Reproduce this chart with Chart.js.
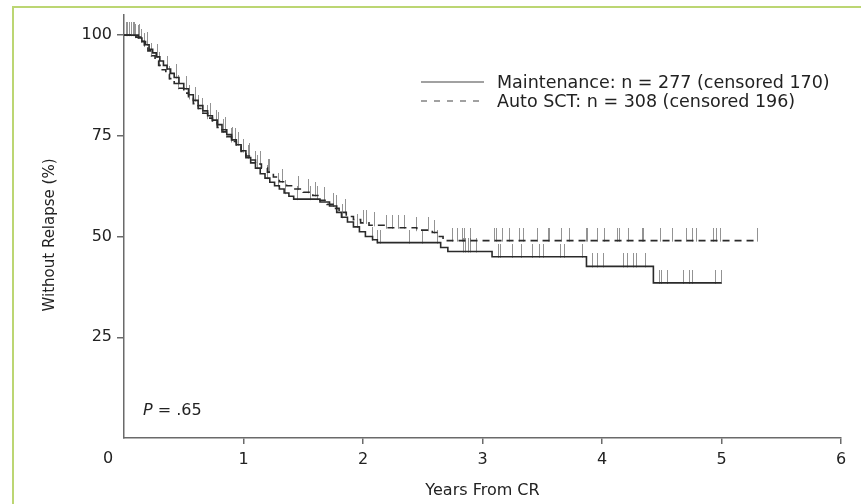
<!DOCTYPE html>
<html>
<head>
<meta charset="utf-8">
<script src="https://cdn.jsdelivr.net/npm/chart.js@4.4.1/dist/chart.umd.min.js"></script>
<style>
  html, body { margin: 0; padding: 0; background: #fff; }
  #wrap { position: relative; width: 861px; height: 504px; }
</style>
</head>
<body>
<div id="wrap"><canvas id="km"></canvas></div>
<script>
// Relapse-free survival from CR, Kaplan-Meier, two arms
const xTicks = [0, 1, 2, 3, 4, 5, 6];
const yTicks = [25, 50, 75, 100];

const seriesLabels = [
    'Maintenance: n = 277 (censored 170)',
    'Auto SCT: n = 308 (censored 196)'
];

// step points: time (years) and % without relapse from that time on
const maintTimes = [0, 0.12, 0.15, 0.18, 0.21, 0.24, 0.27, 0.30, 0.33, 0.36,
    0.39, 0.42, 0.46, 0.50, 0.54, 0.58, 0.62, 0.66, 0.70, 0.74,
    0.78, 0.82, 0.86, 0.90, 0.94, 0.98, 1.02, 1.06, 1.10, 1.14,
    1.18, 1.22, 1.26, 1.30, 1.34, 1.38, 1.42, 1.64, 1.72, 1.78,
    1.82, 1.87, 1.92, 1.97, 2.02, 2.08, 2.12, 2.65, 2.71, 3.08,
    3.87, 4.43, 5.0];
const maintSurv = [100, 99.3, 98.4, 97.6, 96.5, 95.6, 94.6, 93.6, 92.5, 91.6,
    90.5, 89.5, 88.0, 86.7, 85.2, 83.8, 82.5, 81.2, 80.0, 78.9,
    77.8, 76.5, 75.3, 74.0, 72.8, 71.3, 69.6, 68.3, 67.0, 65.6,
    64.5, 63.5, 62.6, 61.8, 60.8, 60.0, 59.3, 58.6, 57.6, 56.0,
    54.8, 53.6, 52.4, 51.2, 50.0, 49.2, 48.5, 47.3, 46.3, 45.0,
    42.6, 38.5, 38.5];

const autoTimes = [0, 0.10, 0.14, 0.17, 0.20, 0.23, 0.26, 0.29, 0.32, 0.35,
    0.38, 0.42, 0.46, 0.50, 0.54, 0.58, 0.62, 0.66, 0.70, 0.74,
    0.78, 0.82, 0.86, 0.90, 0.94, 0.98, 1.02, 1.06, 1.10, 1.15,
    1.20, 1.25, 1.30, 1.36, 1.42, 1.50, 1.58, 1.64, 1.70, 1.76,
    1.80, 1.86, 1.92, 1.98, 2.05, 2.20, 2.45, 2.58, 2.63, 2.67,
    5.3];
const autoSurv = [100, 99.5, 98.5, 97.3, 96.1, 94.9, 93.7, 92.5, 91.4, 90.3,
    89.2, 88.0, 86.8, 85.6, 84.3, 83.0, 81.8, 80.6, 79.4, 78.3,
    77.1, 76.0, 74.8, 73.6, 72.4, 71.1, 70.0, 69.0, 68.0, 67.0,
    66.0, 64.8, 63.6, 62.6, 61.8, 61.0, 60.2, 59.0, 58.0, 57.0,
    56.0, 55.0, 54.2, 53.4, 52.8, 52.2, 51.6, 51.0, 50.0, 49.0,
    49.0];

// censoring times (years)
const maintCensor = [0.03, 0.06, 0.09, 0.12, 0.15, 0.2, 0.28, 0.36, 0.44, 0.52,
    0.6, 0.66, 0.72, 0.79, 0.85, 0.91, 0.96, 1.04, 1.12, 1.2,
    1.29, 1.35, 1.45, 1.56, 1.62, 1.75, 1.83, 1.95, 2.08, 2.12,
    2.15, 2.39, 2.5, 2.62, 2.84, 2.86, 2.88, 2.9, 2.95, 3.13,
    3.15, 3.25, 3.33, 3.42, 3.48, 3.51, 3.65, 3.69, 3.84, 3.92,
    3.96, 4.01, 4.18, 4.21, 4.26, 4.29, 4.36, 4.48, 4.5, 4.55,
    4.68, 4.73, 4.76, 4.95, 5.0];
const autoCensor = [0.02, 0.05, 0.08, 0.1, 0.13, 0.17, 0.23, 0.3, 0.38, 0.46,
    0.55, 0.62, 0.7, 0.77, 0.83, 0.9, 0.93, 1.0, 1.05, 1.1,
    1.14, 1.21, 1.22, 1.33, 1.46, 1.54, 1.6, 1.68, 1.78, 1.85,
    2.0, 2.03, 2.1, 2.2, 2.25, 2.3, 2.35, 2.45, 2.55, 2.6,
    2.75, 2.79, 2.83, 2.85, 2.9, 3.1, 3.12, 3.17, 3.23, 3.31,
    3.34, 3.46, 3.55, 3.56, 3.66, 3.73, 3.87, 3.88, 3.96, 4.02,
    4.13, 4.15, 4.22, 4.34, 4.35, 4.49, 4.59, 4.71, 4.76, 4.79,
    4.93, 4.96, 4.99, 5.3];

const yTitle = 'Without Relapse (%)';
const pText = '= .65';

const FONT = 'DejaVu Sans, Liberation Sans, Arial, sans-serif';
const INK = '#222';
const AXIS = '#6a6a6a';

// value of a step curve at time t
function survAt(times, surv, t) {
    let v = surv[0];
    for (let i = 0; i < times.length; i++) {
        if (times[i] <= t) v = surv[i];
        else break;
    }
    return v;
}

// little vertical bar that sits on top of the point
function censorMark() {
    const h = 13;
    const c = document.createElement('canvas');
    c.width = 1;
    c.height = h * 2;
    const g = c.getContext('2d');
    g.fillStyle = 'rgba(105,105,105,0.72)';
    g.fillRect(0, 0, 1, h + 1);
    return c;
}
const mark = censorMark();

const toXY = (ts, vs) => ts.map((t, i) => ({ x: t, y: vs[i] }));
const censorXY = (cs, ts, vs) => cs.map(t => ({ x: t, y: survAt(ts, vs, t) }));

// legend inside the plot, y title, P value, and the shifted "0" label
const notesPlugin = {
    id: 'kmNotes',
    afterDraw(chart) {
        const { ctx, scales } = chart;
        ctx.save();

        // frame lines (top / left) of the figure panel
        ctx.strokeStyle = '#bcd673';
        ctx.lineWidth = 2;
        ctx.beginPath();
        ctx.moveTo(13, 504);
        ctx.lineTo(13, 7);
        ctx.lineTo(861, 7);
        ctx.stroke();

        // legend
        ctx.font = '17.5px ' + FONT;
        ctx.fillStyle = INK;
        ctx.textBaseline = 'middle';
        ctx.textAlign = 'left';
        const rows = [82, 101];
        chart.data.datasets.slice(0, 2).forEach((ds, i) => {
            const y = rows[i];
            ctx.strokeStyle = '#444';
            ctx.lineWidth = 1.2;
            ctx.setLineDash(i === 0 ? [] : [6, 7]);
            ctx.beginPath();
            ctx.moveTo(421, y);
            ctx.lineTo(484, y);
            ctx.stroke();
            ctx.setLineDash([]);
            ctx.fillText(ds.label, 497, y + 1);
        });

        // y axis title, a little below the plot centre as in the print
        ctx.save();
        ctx.translate(50, 235);
        ctx.rotate(-Math.PI / 2);
        ctx.textAlign = 'center';
        ctx.font = '15px ' + FONT;
        ctx.fillText(yTitle, 0, 0);
        ctx.restore();

        // P value
        ctx.font = 'italic 16px ' + FONT;
        ctx.fillText('P', 143, 411);
        const pw = ctx.measureText('P ').width;
        ctx.font = '16px ' + FONT;
        ctx.fillText(pText, 143 + pw, 411);

        // "0" sits left of the origin
        ctx.textAlign = 'center';
        ctx.fillText('0', scales.x.getPixelForValue(0) - 16, 459);
        ctx.restore();
    }
};

new Chart(document.getElementById('km'), {
    type: 'line',
    data: {
        datasets: [{
            label: seriesLabels[0],
            data: toXY(maintTimes, maintSurv),
            stepped: 'before',
            borderColor: '#2a2a2a',
            borderWidth: 1.6,
            pointRadius: 0,
            order: 0
        }, {
            label: seriesLabels[1],
            data: toXY(autoTimes, autoSurv),
            stepped: 'before',
            borderColor: '#2a2a2a',
            borderWidth: 1.6,
            borderDash: [7, 5],
            pointRadius: 0,
            order: 0
        }, {
            label: 'maint censored',
            data: censorXY(maintCensor, maintTimes, maintSurv),
            showLine: false,
            pointStyle: mark,
            pointRadius: 5,
            order: 1
        }, {
            label: 'auto censored',
            data: censorXY(autoCensor, autoTimes, autoSurv),
            showLine: false,
            pointStyle: mark,
            pointRadius: 5,
            order: 1
        }]
    },
    options: {
        responsive: true,
        maintainAspectRatio: false,
        animation: false,
        layout: { padding: { left: 40, top: 15, right: 20, bottom: 0 } },
        scales: {
            x: {
                type: 'linear',
                min: 0,
                max: 6,
                afterBuildTicks: s => { s.ticks = xTicks.map(v => ({ value: v })); },
                afterFit: s => { s.height = 66; },
                ticks: {
                    autoSkip: false,
                    maxRotation: 0,
                    padding: 6,
                    color: INK,
                    font: { family: FONT, size: 16 },
                    callback: v => v === 0 ? '' : String(v)
                },
                grid: {
                    drawOnChartArea: false,
                    tickLength: 6,
                    lineWidth: 1.5,
                    color: c => (c.tick && c.tick.value === 0) ? 'rgba(0,0,0,0)' : AXIS
                },
                border: { color: AXIS, width: 1.5 },
                title: {
                    display: true,
                    text: 'Years From CR',
                    color: INK,
                    font: { family: FONT, size: 16 },
                    padding: { top: 4, bottom: 4 }
                }
            },
            y: {
                min: 0,
                max: 105,
                afterBuildTicks: s => { s.ticks = yTicks.map(v => ({ value: v })); },
                afterFit: s => { s.width = 84; },
                ticks: {
                    padding: 5,
                    color: INK,
                    font: { family: FONT, size: 16 }
                },
                grid: {
                    drawOnChartArea: false,
                    tickLength: 7,
                    lineWidth: 1.5,
                    color: AXIS
                },
                border: { color: AXIS, width: 1.5 }
            }
        },
        plugins: {
            legend: { display: false },
            tooltip: { enabled: false }
        }
    },
    plugins: [notesPlugin]
});
</script>
</body>
</html>
